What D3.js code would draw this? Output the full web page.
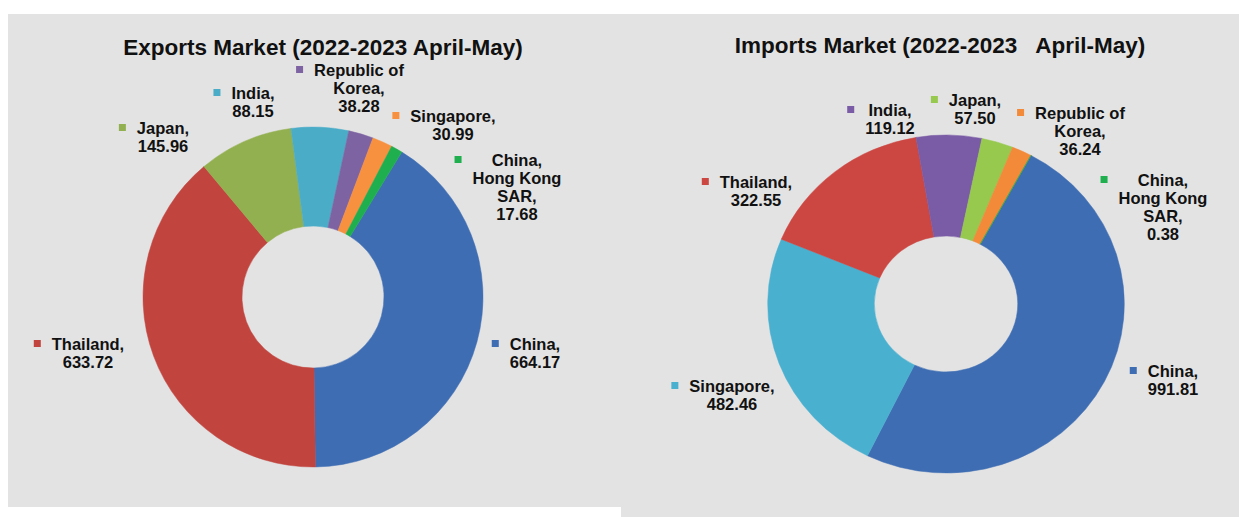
<!DOCTYPE html>
<html>
<head>
<meta charset="utf-8">
<script src="https://cdn.jsdelivr.net/npm/d3@7"></script>
<style>
  html, body { margin: 0; padding: 0; background: #ffffff; }
  svg { display: block; font-family: "Liberation Sans", Arial, sans-serif; }
</style>
</head>
<body>
<svg id="chart" width="1239" height="517"></svg>
<script>
// ---------------- DATA ----------------
const exportCountries = ["China", "Thailand", "Japan", "India", "Republic of Korea", "Singapore", "China, Hong Kong SAR"];
const exportValues    = [664.17, 633.72, 145.96, 88.15, 38.28, 30.99, 17.68];
const exportColors    = ["#3E6DB3", "#C1443E", "#92B050", "#4BACC8", "#7E63A3", "#F7913F", "#1FAF4F"];

const importCountries = ["China", "Singapore", "Thailand", "India", "Japan", "Republic of Korea", "China, Hong Kong SAR"];
const importValues    = [991.81, 482.46, 322.55, 119.12, 57.50, 36.24, 0.38];
const importColors    = ["#3E6DB3", "#4AB0CF", "#CC4642", "#7A5BA5", "#96C94E", "#F28A3A", "#1FAF4F"];

const exportTitle = "Exports Market (2022-2023 April-May)";
const importTitle = "Imports Market (2022-2023\u00a0\u00a0 April-May)";

// label line-wrapping for long names
const nameLines = {
  "Republic of Korea": ["Republic of", "Korea,"],
  "China, Hong Kong SAR": ["China,", "Hong Kong", "SAR,"]
};

// ---------------- LAYOUT ----------------
const layoutExport = {
  cx: 313, cy: 297, R: 170, r: 71, sx: 1.0, startDeg: 31.5,
  titleX: 323, titleY: 55,
  labels: {
    "China": [535, 344],
    "Thailand": [88, 344],
    "Japan": [163, 128],
    "India": [253, 93],
    "Republic of Korea": [359, 70],
    "Singapore": [453, 116],
    "China, Hong Kong SAR": [517, 160]
  }
};
const layoutImport = {
  cx: 946, cy: 304, R: 169, r: 68, sx: 1.055, startDeg: 28.5,
  titleX: 940, titleY: 53,
  labels: {
    "China": [1173, 371],
    "Singapore": [732, 386],
    "Thailand": [756, 182],
    "India": [890, 110],
    "Japan": [975, 100],
    "Republic of Korea": [1080, 113],
    "China, Hong Kong SAR": [1163, 180]
  }
};

const svg = d3.select("#chart");

// panels
svg.append("rect").attr("x", 8).attr("y", 14).attr("width", 614).attr("height", 493).attr("fill", "#E3E3E3");
svg.append("rect").attr("x", 621).attr("y", 14).attr("width", 618).attr("height", 503).attr("fill", "#E3E3E3");

function drawDonut(countries, values, colors, title, L) {
  const g = svg.append("g");
  const data = countries.map((c, i) => ({ country: c, value: values[i], color: colors[i] }));
  const start = L.startDeg * Math.PI / 180;
  const pie = d3.pie().value(d => d.value).sort(null)
    .startAngle(start).endAngle(start + 2 * Math.PI);
  const arc = d3.arc().innerRadius(L.r).outerRadius(L.R);

  const dg = g.append("g").attr("transform", `translate(${L.cx},${L.cy}) scale(${L.sx},1)`);
  dg.selectAll("path").data(pie(data)).join("path")
    .attr("d", arc)
    .attr("fill", d => d.data.color)
    .attr("stroke", d => d.data.color)
    .attr("stroke-width", 0.5);

  g.append("text")
    .attr("x", L.titleX).attr("y", L.titleY)
    .attr("text-anchor", "middle")
    .attr("font-size", 22.5).attr("font-weight", "bold").attr("fill", "#111")
    .text(title);

  const lineH = 18;
  data.forEach(d => {
    const pos = L.labels[d.country];
    const lines = (nameLines[d.country] || [d.country + ","]).concat([d3.format(".2f")(d.value)]);
    const lg = g.append("g");
    const t = lg.append("text")
      .attr("text-anchor", "middle")
      .attr("font-size", 16.5).attr("font-weight", "bold").attr("fill", "#111");
    lines.forEach((ln, i) => {
      t.append("tspan").attr("x", pos[0]).attr("y", pos[1] + 6 + i * lineH).text(ln);
    });
    let maxW = 0;
    t.selectAll("tspan").each(function () { maxW = Math.max(maxW, this.getComputedTextLength()); });
    const left = pos[0] - maxW / 2;
    lg.append("rect")
      .attr("x", left - 18).attr("y", pos[1] - 4)
      .attr("width", 7).attr("height", 7)
      .attr("fill", d.color);
  });
}

drawDonut(exportCountries, exportValues, exportColors, exportTitle, layoutExport);
drawDonut(importCountries, importValues, importColors, importTitle, layoutImport);
</script>
</body>
</html>
